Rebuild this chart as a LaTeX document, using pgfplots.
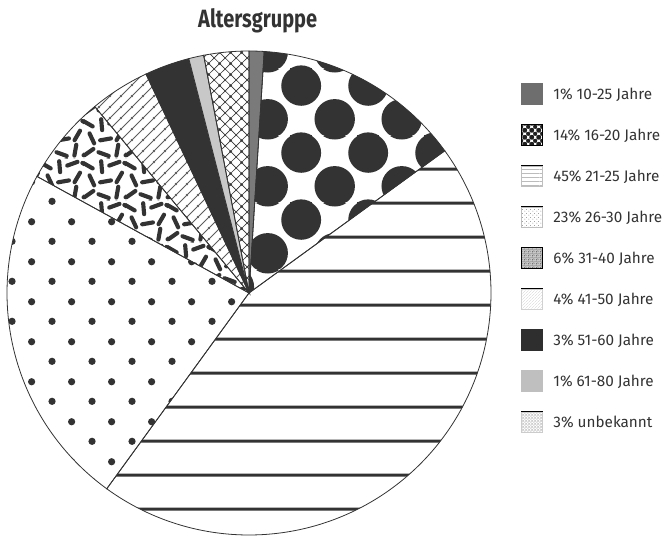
\documentclass[border=0pt]{standalone}
\usepackage{fontspec}
\setmainfont{Fira Sans}
\newfontfamily\titlefont[FakeStretch=0.8]{Fira Sans}
\usepackage{pgfplots}
\pgfplotsset{compat=1.18}
\usetikzlibrary{patterns}

\definecolor{ink}{HTML}{333333}
\definecolor{slicegray}{HTML}{7A7A7A}
\definecolor{lightslice}{HTML}{C8C8C8}
\definecolor{legtext}{HTML}{333333}

% ---------- pie patterns (1pt ~ 1px) ----------
\pgfdeclarepatternformonly{pbigdots}{\pgfqpoint{0pt}{0pt}}{\pgfqpoint{66.67pt}{66.67pt}}{\pgfqpoint{66.67pt}{66.67pt}}{%
  \foreach \dx in {-66.67,0,66.67}{\foreach \dy in {-66.67,0,66.67}{%
    \pgfpathcircle{\pgfpointadd{\pgfqpoint{34.3pt}{49.3pt}}{\pgfpoint{\dx pt}{\dy pt}}}{20pt}%
    \pgfpathcircle{\pgfpointadd{\pgfqpoint{1pt}{16pt}}{\pgfpoint{\dx pt}{\dy pt}}}{20pt}%
  }}%
  \pgfusepath{fill}}
\pgfdeclarepatternformonly{pthicklines}{\pgfqpoint{0pt}{0pt}}{\pgfqpoint{700pt}{33.5pt}}{\pgfqpoint{700pt}{33.5pt}}{%
  \pgfpathrectangle{\pgfqpoint{0pt}{26.8pt}}{\pgfqpoint{700pt}{2.9pt}}%
  \pgfusepath{fill}}
\pgfdeclarepatternformonly{psmalldots}{\pgfqpoint{0pt}{0pt}}{\pgfqpoint{40pt}{40pt}}{\pgfqpoint{40pt}{40pt}}{%
  \pgfpathcircle{\pgfqpoint{12.3pt}{15pt}}{3.7pt}%
  \pgfpathcircle{\pgfqpoint{32.3pt}{35pt}}{3.7pt}%
  \pgfusepath{fill}}
\newcommand\sprdash[3]{%
  \foreach \dx in {-42,0,42}{\foreach \dy in {-42,0,42}{%
  \pgfpathmoveto{\pgfpointadd{\pgfpoint{#1pt+\dx pt}{#2pt+\dy pt}}{\pgfpointpolar{#3}{5.6pt}}}%
  \pgfpathlineto{\pgfpointadd{\pgfpoint{#1pt+\dx pt}{#2pt+\dy pt}}{\pgfpointpolar{#3+180}{5.6pt}}}}}}
\pgfdeclarepatternformonly{psprinkles}{\pgfqpoint{0pt}{0pt}}{\pgfqpoint{42pt}{42pt}}{\pgfqpoint{42pt}{42pt}}{%
  \pgfsetlinewidth{4.2pt}\pgfsetroundcap
  \sprdash{5}{6}{35}\sprdash{20}{4}{160}\sprdash{34}{8}{80}%
  \sprdash{8}{20}{115}\sprdash{22}{19}{10}\sprdash{36}{23}{60}%
  \sprdash{4}{35}{150}\sprdash{18}{34}{95}\sprdash{31}{37}{20}%
  \pgfusepath{stroke}}
\pgfdeclarepatternformonly{pdiaglines}{\pgfqpoint{0pt}{0pt}}{\pgfqpoint{11pt}{11pt}}{\pgfqpoint{11pt}{11pt}}{%
  \pgfsetlinewidth{0.8pt}
  \pgfpathmoveto{\pgfqpoint{-1pt}{-1pt}}\pgfpathlineto{\pgfqpoint{12pt}{12pt}}%
  \pgfpathmoveto{\pgfqpoint{-1pt}{10pt}}\pgfpathlineto{\pgfqpoint{1pt}{12pt}}%
  \pgfpathmoveto{\pgfqpoint{10pt}{-1pt}}\pgfpathlineto{\pgfqpoint{12pt}{1pt}}%
  \pgfusepath{stroke}}
\pgfdeclarepatternformonly{pcrosshatch}{\pgfqpoint{0pt}{0pt}}{\pgfqpoint{11pt}{11pt}}{\pgfqpoint{11pt}{11pt}}{%
  \pgfsetlinewidth{0.7pt}
  \pgfpathmoveto{\pgfqpoint{-1pt}{-1pt}}\pgfpathlineto{\pgfqpoint{12pt}{12pt}}%
  \pgfpathmoveto{\pgfqpoint{-1pt}{10pt}}\pgfpathlineto{\pgfqpoint{1pt}{12pt}}%
  \pgfpathmoveto{\pgfqpoint{10pt}{-1pt}}\pgfpathlineto{\pgfqpoint{12pt}{1pt}}%
  \pgfpathmoveto{\pgfqpoint{-1pt}{12pt}}\pgfpathlineto{\pgfqpoint{12pt}{-1pt}}%
  \pgfpathmoveto{\pgfqpoint{-1pt}{1pt}}\pgfpathlineto{\pgfqpoint{1pt}{-1pt}}%
  \pgfpathmoveto{\pgfqpoint{10pt}{12pt}}\pgfpathlineto{\pgfqpoint{12pt}{10pt}}%
  \pgfusepath{stroke}}

% ---------- legend swatch patterns ----------
\pgfdeclarepatternformonly{lbigdots}{\pgfqpoint{0pt}{0pt}}{\pgfqpoint{7pt}{7pt}}{\pgfqpoint{7pt}{7pt}}{%
  \pgfpathcircle{\pgfqpoint{0pt}{0pt}}{2.3pt}\pgfpathcircle{\pgfqpoint{7pt}{0pt}}{2.3pt}%
  \pgfpathcircle{\pgfqpoint{0pt}{7pt}}{2.3pt}\pgfpathcircle{\pgfqpoint{7pt}{7pt}}{2.3pt}%
  \pgfpathcircle{\pgfqpoint{3.5pt}{3.5pt}}{2.3pt}%
  \pgfusepath{fill}}
\pgfdeclarepatternformonly{lhlines}{\pgfqpoint{0pt}{0pt}}{\pgfqpoint{30pt}{3.6pt}}{\pgfqpoint{30pt}{3.6pt}}{%
  \pgfpathrectangle{\pgfqpoint{0pt}{1.5pt}}{\pgfqpoint{30pt}{0.5pt}}%
  \pgfusepath{fill}}
\pgfdeclarepatternformonly{ldots}{\pgfqpoint{0pt}{0pt}}{\pgfqpoint{4pt}{4pt}}{\pgfqpoint{4pt}{4pt}}{%
  \pgfpathcircle{\pgfqpoint{1pt}{1pt}}{0.5pt}\pgfpathcircle{\pgfqpoint{3pt}{3pt}}{0.5pt}%
  \pgfusepath{fill}}
\pgfdeclarepatternformonly{lnoise}{\pgfqpoint{0pt}{0pt}}{\pgfqpoint{4pt}{4pt}}{\pgfqpoint{4pt}{4pt}}{%
  \pgfpathrectangle{\pgfqpoint{0pt}{0pt}}{\pgfqpoint{1pt}{1pt}}%
  \pgfpathrectangle{\pgfqpoint{2pt}{0.5pt}}{\pgfqpoint{1pt}{1pt}}%
  \pgfpathrectangle{\pgfqpoint{1pt}{2pt}}{\pgfqpoint{1pt}{1pt}}%
  \pgfpathrectangle{\pgfqpoint{3pt}{2.6pt}}{\pgfqpoint{1pt}{1pt}}%
  \pgfpathrectangle{\pgfqpoint{0.3pt}{3.2pt}}{\pgfqpoint{0.8pt}{0.8pt}}%
  \pgfusepath{fill}}
\pgfdeclarepatternformonly{ldiag}{\pgfqpoint{0pt}{0pt}}{\pgfqpoint{2.5pt}{2.5pt}}{\pgfqpoint{2.5pt}{2.5pt}}{%
  \pgfsetlinewidth{0.4pt}
  \pgfpathmoveto{\pgfqpoint{-0.5pt}{-0.5pt}}\pgfpathlineto{\pgfqpoint{3pt}{3pt}}%
  \pgfusepath{stroke}}
\pgfdeclarepatternformonly{lcross}{\pgfqpoint{0pt}{0pt}}{\pgfqpoint{3pt}{3pt}}{\pgfqpoint{3pt}{3pt}}{%
  \pgfsetlinewidth{0.4pt}
  \pgfpathmoveto{\pgfqpoint{-0.5pt}{-0.5pt}}\pgfpathlineto{\pgfqpoint{3.5pt}{3.5pt}}%
  \pgfpathmoveto{\pgfqpoint{-0.5pt}{3.5pt}}\pgfpathlineto{\pgfqpoint{3.5pt}{-0.5pt}}%
  \pgfusepath{stroke}}

\newcommand\swatch[1]{\fill[white] (0pt,-10.5pt) rectangle (21pt,10.5pt); #1}

\begin{document}
\begin{tikzpicture}
\useasboundingbox (0pt,0pt) rectangle (670pt,536pt);
\begin{axis}[
  at={(249pt,243pt)}, anchor=center,
  scale only axis, width=484pt, height=484pt,
  xmin=-1, xmax=1, ymin=-1, ymax=1,
  hide axis, clip=false,
  title={Altersgruppe},
  title style={at={(0.518,1)}, anchor=base, yshift=17pt, text=ink,
    font=\titlefont\bfseries\fontsize{25}{28}\selectfont},
  legend style={at={(1.062,0.933)}, anchor=north west, draw=none, fill=none,
    inner sep=0pt, outer sep=0pt, column sep=11pt, row sep=19.6pt,
    nodes={inner sep=0pt, text=legtext}, font=\fontsize{15.3}{17}\selectfont},
  legend cell align=left,
]
% slices: percentages 1,14,45,23,6,4,3,1,3 clockwise from the top
\addplot[forget plot, draw=ink, line width=0.8pt, fill=slicegray, domain=90-3.6*1:90-3.6*0, samples=20] ({cos(x)},{sin(x)}) -- (0,0) -- cycle;
\addplot[forget plot, draw=ink, line width=0.8pt, pattern=pbigdots, pattern color=ink, domain=90-3.6*15:90-3.6*1, samples=80] ({cos(x)},{sin(x)}) -- (0,0) -- cycle;
\addplot[forget plot, draw=ink, line width=0.8pt, pattern=pthicklines, pattern color=ink, domain=90-3.6*60:90-3.6*15, samples=200] ({cos(x)},{sin(x)}) -- (0,0) -- cycle;
\addplot[forget plot, draw=ink, line width=0.8pt, pattern=psmalldots, pattern color=ink, domain=90-3.6*83:90-3.6*60, samples=120] ({cos(x)},{sin(x)}) -- (0,0) -- cycle;
\addplot[forget plot, draw=ink, line width=0.8pt, pattern=psprinkles, pattern color=ink, domain=90-3.6*89:90-3.6*83, samples=40] ({cos(x)},{sin(x)}) -- (0,0) -- cycle;
\addplot[forget plot, draw=ink, line width=0.8pt, pattern=pdiaglines, pattern color=ink!80, domain=90-3.6*93:90-3.6*89, samples=30] ({cos(x)},{sin(x)}) -- (0,0) -- cycle;
\addplot[forget plot, draw=ink, line width=0.8pt, fill=ink, domain=90-3.6*96:90-3.6*93, samples=20] ({cos(x)},{sin(x)}) -- (0,0) -- cycle;
\addplot[forget plot, draw=ink, line width=0.8pt, fill=lightslice, domain=90-3.6*97:90-3.6*96, samples=20] ({cos(x)},{sin(x)}) -- (0,0) -- cycle;
\addplot[forget plot, draw=ink, line width=0.8pt, pattern=pcrosshatch, pattern color=ink, domain=90-3.6*100:90-3.6*97, samples=20] ({cos(x)},{sin(x)}) -- (0,0) -- cycle;

% legend
\addlegendimage{legend image code/.code={\fill[black!57] (0pt,-10.5pt) rectangle (21pt,10.5pt);}}
\addlegendentry{1\% 10-25 Jahre}
\addlegendimage{legend image code/.code={\swatch{\path[pattern=lbigdots, pattern color=black!88] (0pt,-10.5pt) rectangle (21pt,10.5pt);}}}
\addlegendentry{14\% 16-20 Jahre}
\addlegendimage{legend image code/.code={\swatch{\path[pattern=lhlines, pattern color=black!40] (0pt,-10.5pt) rectangle (21pt,10.5pt); \draw[black!25, line width=0.4pt] (0.2pt,-10.3pt) rectangle (20.8pt,10.3pt);}}}
\addlegendentry{45\% 21-25 Jahre}
\addlegendimage{legend image code/.code={\swatch{\path[pattern=ldots, pattern color=black!55] (0pt,-10.5pt) rectangle (21pt,10.5pt); \draw[black!25, line width=0.4pt] (0.2pt,-10.3pt) rectangle (20.8pt,10.3pt);}}}
\addlegendentry{23\% 26-30 Jahre}
\addlegendimage{legend image code/.code={\fill[black!22] (0pt,-10.5pt) rectangle (21pt,10.5pt); \path[pattern=lnoise, pattern color=black!55] (0pt,-10.5pt) rectangle (21pt,10.5pt);}}
\addlegendentry{6\% 31-40 Jahre}
\addlegendimage{legend image code/.code={\swatch{\path[pattern=ldiag, pattern color=black!22] (0pt,-10.5pt) rectangle (21pt,10.5pt); \draw[black!18, line width=0.4pt] (0.2pt,-10.3pt) rectangle (20.8pt,10.3pt);}}}
\addlegendentry{4\% 41-50 Jahre}
\addlegendimage{legend image code/.code={\fill[ink!90!black] (0pt,-10.5pt) rectangle (21pt,10.5pt);}}
\addlegendentry{3\% 51-60 Jahre}
\addlegendimage{legend image code/.code={\fill[black!25] (0pt,-10.5pt) rectangle (21pt,10.5pt);}}
\addlegendentry{1\% 61-80 Jahre}
\addlegendimage{legend image code/.code={\swatch{\path[pattern=lcross, pattern color=black!30] (0pt,-10.5pt) rectangle (21pt,10.5pt); \draw[black!20, line width=0.4pt] (0.2pt,-10.3pt) rectangle (20.8pt,10.3pt);}}}
\addlegendentry{3\% unbekannt}
\end{axis}
\end{tikzpicture}
\end{document}
